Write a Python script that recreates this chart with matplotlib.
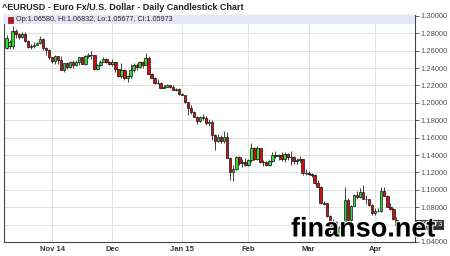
import pandas as pd
import matplotlib.pyplot as plt
import matplotlib.patheffects as pe
from matplotlib.patches import Rectangle

plt.rcParams['font.family'] = ['Liberation Sans', 'DejaVu Sans']

# daily EUR/USD candles, 13 Oct 2014 .. 10 Apr 2015
dates = pd.bdate_range('2014-10-13', '2015-04-10')

opens = [1.2630, 1.2650, 1.2650, 1.2830, 1.2790, 1.2760, 1.2795, 1.2715, 1.2645, 1.2650,
         1.2670, 1.2690, 1.2735, 1.2630, 1.2610, 1.2525, 1.2480, 1.2535, 1.2490, 1.2380,
         1.2455, 1.2410, 1.2475, 1.2440, 1.2475, 1.2525, 1.2450, 1.2535, 1.2545, 1.2550,
         1.2390, 1.2435, 1.2475, 1.2505, 1.2475, 1.2450, 1.2470, 1.2385, 1.2310, 1.2380,
         1.2285, 1.2305, 1.2375, 1.2440, 1.2415, 1.2465, 1.2440, 1.2510, 1.2335, 1.2290,
         1.2230, 1.2225, 1.2175, 1.2185, 1.2200, 1.2180, 1.2150, 1.2160, 1.2100, 1.2090,
         1.2005, 1.1935, 1.1890, 1.1840, 1.1790, 1.1840, 1.1830, 1.1770, 1.1780, 1.1630,
         1.1560, 1.1610, 1.1560, 1.1610, 1.1370, 1.1200, 1.1235, 1.1375, 1.1310, 1.1320,
         1.1290, 1.1340, 1.1480, 1.1350, 1.1480, 1.1315, 1.1320, 1.1290, 1.1335, 1.1400,
         1.1390, 1.1400, 1.1350, 1.1410, 1.1375, 1.1380, 1.1335, 1.1345, 1.1350, 1.1195,
         1.1195, 1.1185, 1.1175, 1.1075, 1.1030, 1.0845, 1.0845, 1.0700, 1.0550, 1.0635,
         1.0495, 1.0570, 1.0595, 1.0880, 1.0650, 1.0815, 1.0935, 1.0920, 1.0970, 1.0900,
         1.0890, 1.0830, 1.0730, 1.0760, 1.0755, 1.0985, 1.0925, 1.0805, 1.0785, 1.06580]
highs = [1.2775, 1.2720, 1.2886, 1.2845, 1.2800, 1.2810, 1.2815, 1.2720, 1.2680, 1.2695,
         1.2705, 1.2765, 1.2745, 1.2640, 1.2615, 1.2530, 1.2545, 1.2540, 1.2535, 1.2460,
         1.2475, 1.2480, 1.2490, 1.2490, 1.2530, 1.2530, 1.2545, 1.2575, 1.2600, 1.2555,
         1.2445, 1.2490, 1.2530, 1.2515, 1.2480, 1.2500, 1.2475, 1.2390, 1.2455, 1.2390,
         1.2320, 1.2445, 1.2460, 1.2455, 1.2480, 1.2480, 1.2570, 1.2535, 1.2345, 1.2295,
         1.2270, 1.2245, 1.2205, 1.2215, 1.2210, 1.2200, 1.2170, 1.2165, 1.2110, 1.2095,
         1.2010, 1.1970, 1.1905, 1.1845, 1.1845, 1.1870, 1.1845, 1.1810, 1.1800, 1.1640,
         1.1640, 1.1625, 1.1680, 1.1660, 1.1380, 1.1285, 1.1390, 1.1385, 1.1350, 1.1365,
         1.1350, 1.1535, 1.1495, 1.1500, 1.1485, 1.1345, 1.1330, 1.1345, 1.1430, 1.1450,
         1.1410, 1.1430, 1.1430, 1.1420, 1.1450, 1.1390, 1.1370, 1.1385, 1.1360, 1.1240,
         1.1220, 1.1195, 1.1180, 1.1115, 1.1040, 1.0870, 1.0850, 1.0705, 1.0665, 1.0645,
         1.0580, 1.0645, 1.1035, 1.0905, 1.0830, 1.0955, 1.0990, 1.1020, 1.1050, 1.0940,
         1.0895, 1.0840, 1.0790, 1.0795, 1.1035, 1.1030, 1.0935, 1.0850, 1.0790, 1.06832]
lows = [1.2615, 1.2620, 1.2620, 1.2740, 1.2735, 1.2740, 1.2700, 1.2630, 1.2615, 1.2625,
        1.2660, 1.2680, 1.2610, 1.2545, 1.2500, 1.2455, 1.2445, 1.2445, 1.2380, 1.2357,
        1.2390, 1.2400, 1.2400, 1.2425, 1.2440, 1.2445, 1.2440, 1.2520, 1.2505, 1.2380,
        1.2380, 1.2425, 1.2465, 1.2460, 1.2435, 1.2425, 1.2360, 1.2300, 1.2290, 1.2265,
        1.2245, 1.2290, 1.2360, 1.2375, 1.2400, 1.2405, 1.2430, 1.2330, 1.2285, 1.2220,
        1.2215, 1.2165, 1.2170, 1.2180, 1.2170, 1.2145, 1.2135, 1.2095, 1.2085, 1.1995,
        1.1860, 1.1870, 1.1840, 1.1755, 1.1775, 1.1800, 1.1750, 1.1730, 1.1570, 1.1460,
        1.1550, 1.1540, 1.1540, 1.1365, 1.1115, 1.1100, 1.1225, 1.1285, 1.1260, 1.1275,
        1.1270, 1.1315, 1.1345, 1.1345, 1.1310, 1.1270, 1.1270, 1.1280, 1.1320, 1.1370,
        1.1345, 1.1330, 1.1325, 1.1345, 1.1280, 1.1300, 1.1295, 1.1320, 1.1175, 1.1175,
        1.1165, 1.1145, 1.1065, 1.1030, 1.0840, 1.0820, 1.0690, 1.0490, 1.0495, 1.0490,
        1.0460, 1.0565, 1.0580, 1.0615, 1.0630, 1.0810, 1.0890, 1.0905, 1.0895, 1.0835,
        1.0815, 1.0715, 1.0710, 1.0745, 1.0745, 1.0925, 1.0800, 1.0765, 1.0655, 1.05677]
closes = [1.2740, 1.2700, 1.2830, 1.2790, 1.2760, 1.2795, 1.2715, 1.2645, 1.2650, 1.2670,
          1.2690, 1.2735, 1.2630, 1.2610, 1.2525, 1.2480, 1.2535, 1.2490, 1.2380, 1.2455,
          1.2410, 1.2475, 1.2440, 1.2475, 1.2525, 1.2450, 1.2535, 1.2545, 1.2550, 1.2390,
          1.2435, 1.2475, 1.2505, 1.2475, 1.2450, 1.2470, 1.2385, 1.2310, 1.2380, 1.2285,
          1.2305, 1.2375, 1.2440, 1.2415, 1.2465, 1.2440, 1.2510, 1.2335, 1.2290, 1.2230,
          1.2225, 1.2175, 1.2185, 1.2200, 1.2180, 1.2150, 1.2160, 1.2100, 1.2090, 1.2005,
          1.1935, 1.1890, 1.1840, 1.1790, 1.1840, 1.1830, 1.1770, 1.1780, 1.1630, 1.1560,
          1.1610, 1.1560, 1.1610, 1.1370, 1.1200, 1.1235, 1.1375, 1.1310, 1.1320, 1.1290,
          1.1340, 1.1480, 1.1350, 1.1480, 1.1315, 1.1320, 1.1290, 1.1335, 1.1400, 1.1390,
          1.1400, 1.1350, 1.1410, 1.1375, 1.1380, 1.1335, 1.1345, 1.1350, 1.1195, 1.1190,
          1.1185, 1.1175, 1.1075, 1.1030, 1.0845, 1.0840, 1.0700, 1.0550, 1.0635, 1.0495,
          1.0570, 1.0595, 1.0880, 1.0650, 1.0815, 1.0935, 1.0920, 1.0970, 1.0900, 1.0890,
          1.0830, 1.0730, 1.0760, 1.0755, 1.0985, 1.0925, 1.0805, 1.0785, 1.0660, 1.05973]

month_labels = ['Nov 14', 'Dec', 'Jan 15', 'Feb', 'Mar', 'Apr']
y_ticks = [1.30, 1.28, 1.26, 1.24, 1.22, 1.20, 1.18, 1.16, 1.14, 1.12, 1.10, 1.08, 1.06, 1.04]

df = pd.DataFrame({'Open': opens, 'High': highs, 'Low': lows, 'Close': closes}, index=dates)
df['x'] = range(len(df))
last = df.iloc[-1]

fig = plt.figure(figsize=(4.5, 2.56), dpi=100)
ax = fig.add_axes([4 / 450, 14 / 256, 411 / 450, 227 / 256])

ax.set_axisbelow(True)
ax.grid(True, color='#e2e2e2', linewidth=0.7)

up = df['Close'] >= df['Open']
colors = ['#33dd33' if u else '#cc1111' for u in up]
ax.vlines(df['x'], df['Low'], df['High'], color='#222222', linewidth=0.6, zorder=2)
body_low = df[['Open', 'Close']].min(axis=1)
body_h = (df['Close'] - df['Open']).abs().clip(lower=0.0006)
ax.bar(df['x'], body_h, bottom=body_low, width=0.85, color=colors,
       edgecolor='#111111', linewidth=0.5, zorder=3)

# month ticks
month_start = df.groupby([df.index.year, df.index.month])['x'].min().values[1:]
ax.set_xticks(month_start)
ax.set_xticklabels(month_labels, fontsize=5.5, fontweight='bold', color='#333333')
ax.tick_params(axis='x', length=0, pad=3)

# the last price box hides the tick label next to it
ax.yaxis.tick_right()
ax.set_yticks(y_ticks)
ax.set_yticklabels(['' if abs(v - last['Close']) < 0.005 else f'{v:.5f}' for v in y_ticks],
                   fontsize=5.5, color='#555555')
ax.tick_params(axis='y', direction='out', length=3, width=0.6, color='#444444', pad=1)

ax.set_xlim(-0.9, 135.2)
ax.set_ylim(1.04, 1.301)
for s in ax.spines.values():
    s.set_color('#444444')
    s.set_linewidth(0.8)

# quote band at top of the plot
ax.add_patch(Rectangle((0, 1 - 9 / 227), 1, 9 / 227, transform=ax.transAxes,
                       facecolor='#e6e6fa', edgecolor='none', zorder=4))
ax.add_patch(Rectangle((3.5 / 411, 1 - 7.5 / 227), 5 / 411, 6 / 227, transform=ax.transAxes,
                       facecolor='#cc1111', edgecolor='#550000', linewidth=0.4, zorder=5))
ax.text(12 / 411, 1 - 4.5 / 227,
        f"Op:{last['Open']:.5f}, Hi:{last['High']:.5f}, Lo:{last['Low']:.5f}, Cl:{last['Close']:.5f}",
        transform=ax.transAxes, fontsize=5.2, va='center', ha='left', color='#222222', zorder=5)

# last price marker on the right axis
ax.text(1.004, last['Close'], f"{last['Close']:.5f}", transform=ax.get_yaxis_transform(),
        fontsize=5.2, color='white', va='center', ha='left', zorder=6, clip_on=False,
        bbox=dict(boxstyle='square,pad=0.2', facecolor='#333333', edgecolor='none'))

fig.text(2 / 450, 1 - 7 / 256, '^EURUSD - Euro Fx/U.S. Dollar - Daily Candlestick Chart',
         fontsize=6.5, fontweight='bold', va='center', ha='left', color='#222222')

fig.text(291 / 450, 19.5 / 256, 'finanso.net', fontsize=19.5, fontweight='bold', color='black',
         ha='left', va='baseline', zorder=10,
         path_effects=[pe.withStroke(linewidth=1.5, foreground='white')])

fig.savefig('out.png', dpi=100)
